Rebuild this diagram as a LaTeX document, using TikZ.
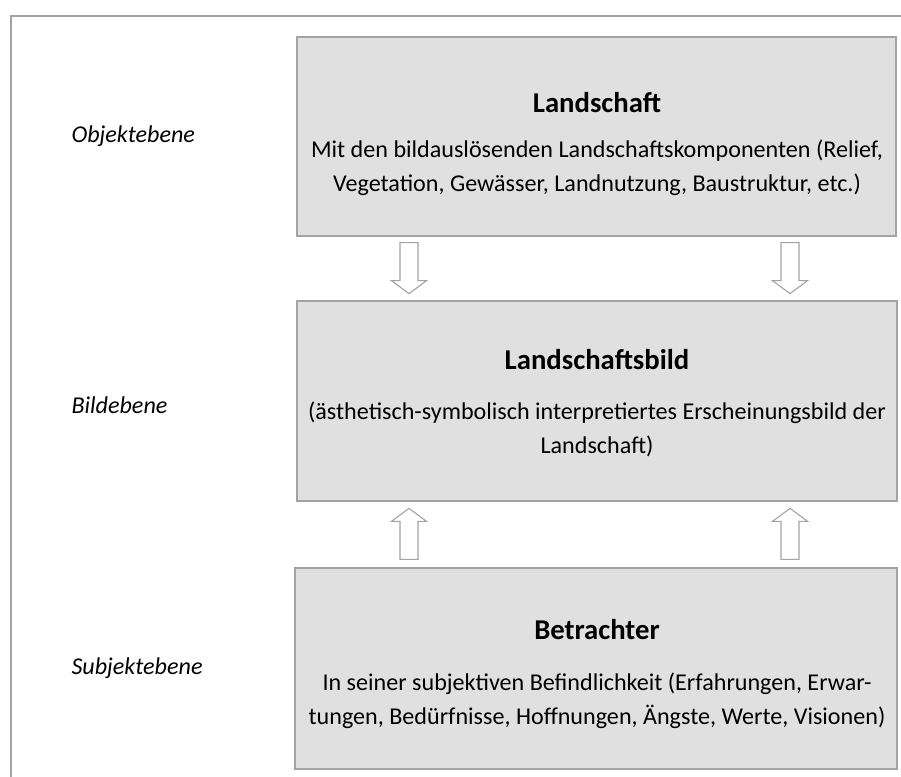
\documentclass[tikz,border=0pt]{standalone}
\usepackage{fontspec}
\setmainfont{Carlito}

\definecolor{boxgray}{HTML}{E0E0E0}
\definecolor{linegray}{HTML}{A3A3A3}

\begin{document}
\begin{tikzpicture}[x=1bp, y=-1bp,
    box/.style={draw=linegray, fill=boxgray, line width=1.3bp, inner sep=0pt},
    title/.style={font=\fontsize{28.8}{34}\selectfont\bfseries},
    body/.style={font=\fontsize{24.2}{34.5}\selectfont, align=center},
    level/.style={font=\fontsize{24.2}{28}\selectfont\itshape, anchor=west},
    hollow/.style={draw=linegray, fill=white, line width=1.1bp},
    downarrow/.pic={\draw[hollow] (-9,0) -- (9,0) -- (9,38) -- (17.5,38) -- (0,51) -- (-17.5,38) -- (-9,38) -- cycle;}]
    \useasboundingbox (0,0) rectangle (901,777);

    % Frame
    \draw[linegray, line width=1.2bp] (11,777) -- (11,16) -- (901,16);

    % Levels
    \node[level] (objekt) at (68,136) {Objektebene};
    \node[level] (bild) at (68,405) {Bildebene};
    \node[level] (subjekt) at (68,668) {Subjektebene};

    % Landschaft
    \node[box, minimum width=599bp, minimum height=199bp] (land) at (596.5,136.5) {};
    \node[title] (landT) at (597,103) {Landschaft};
    \node[body] (landB) at (597,168) {Mit den bildauslösenden Landschaftskomponenten (Relief,\\
        Vegetation, Gewässer, Landnutzung, Baustruktur, etc.)};

    % Landschaftsbild
    \node[box, minimum width=600bp, minimum height=200bp] (bildbox) at (597,401) {};
    \node[title] (bildT) at (597,360) {Landschaftsbild};
    \node[body] (bildB) at (597,429.5) {(ästhetisch-symbolisch interpretiertes Erscheinungsbild der\\
        Landschaft)};

    % Betrachter
    \node[box, minimum width=602bp, minimum height=201bp] (betr) at (596,668.5) {};
    \node[title] (betrT) at (597,630) {Betrachter};
    \node[body] (betrB) at (597,700.5) {In seiner subjektiven Befindlichkeit (Erfahrungen, Erwar-\\
        tungen, Bedürfnisse, Hoffnungen, Ängste, Werte, Visionen)};

    % Arrows down
    \pic at ([shift={(-187.5bp,-6bp)}]land.south) {downarrow};
    \pic at ([shift={(193.5bp,-6bp)}]land.south) {downarrow};

    % Arrows up
    \pic[rotate=180] at ([shift={(-187bp,8bp)}]betr.north) {downarrow};
    \pic[rotate=180] at ([shift={(194bp,8bp)}]betr.north) {downarrow};
\end{tikzpicture}
\end{document}
